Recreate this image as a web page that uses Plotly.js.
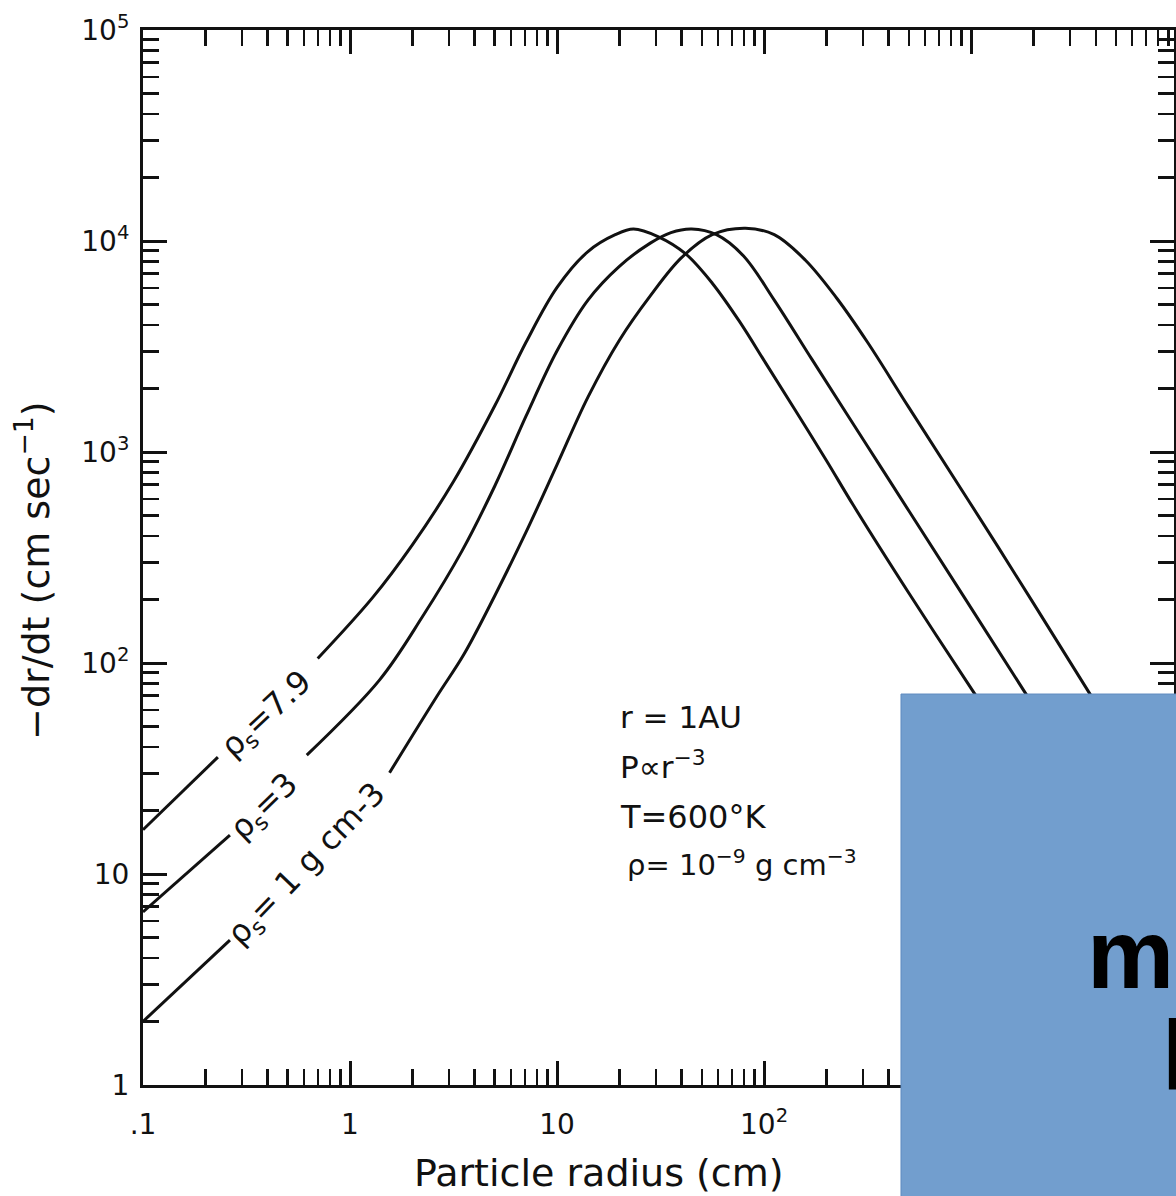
<!DOCTYPE html>
<html>
<head>
<meta charset="utf-8">
<script src="https://cdn.plot.ly/plotly-3.0.1.min.js"></script>
<style>
  html, body { margin: 0; padding: 0; background: #ffffff; }
  #chart { width: 1176px; height: 1196px; }
</style>
</head>
<body>
<div id="chart"></div>
<script>
// ---- Data (particle radius in cm, -dr/dt in cm/s) ----
// null marks the gap where each curve is interrupted by its label
const radiusRho79 = [0.1, 0.23, null, 0.698, 1.285, 2.0, 3.16, 5.01, 7.08, 10.0, 14.1, 19.1, 23.4, 30.9, 41.7, 56.2, 75.9, 102, 141, 200, 269, 501, 1047, 1148];
const rateRho79   = [16.2, 35.8, null, 105, 204, 363, 724, 1660, 3311, 6026, 8913, 10715, 11402, 10471, 8710, 6310, 4169, 2630, 1585, 912, 562, 214, 70.8, 61.7];

const radiusRho3 = [0.1, 0.263, null, 0.618, 1.39, 2.24, 3.47, 5.01, 7.08, 10.0, 14.1, 20.0, 28.2, 35.5, 44.7, 58.9, 79.4, 112, 170, 251, 355, 501, 1849, 2042];
const rateRho3   = [6.61, 15.3, null, 36.6, 83.2, 166, 339, 692, 1479, 3020, 5248, 7586, 9772, 10965, 11402, 10715, 8511, 5248, 2754, 1514, 891, 525, 70.8, 60.3];

const radiusRho1 = [0.1, 0.263, null, 1.552, 2.62, 3.55, 5.01, 7.08, 10.0, 14.1, 20.0, 28.2, 39.8, 56.2, 81.3, 112, 158, 224, 316, 501, 1349, 3767, 4169];
const rateRho1   = [2.0, 4.86, null, 30.2, 69.2, 110, 209, 417, 871, 1820, 3388, 5495, 8318, 10715, 11482, 10715, 8128, 5370, 3311, 1622, 355, 70.8, 60.3];

const curveNames = ["ρs = 7.9 g cm-3", "ρs = 3 g cm-3", "ρs = 1 g cm-3"];

const xTickVals = [0.1, 1, 10, 100, 1000];
const xTickText = [".1", "1", "10", "10<sup>2</sup>", "10<sup>3</sup>"];
const yTickVals = [1, 10, 100, 1000, 10000, 100000];
const yTickText = ["1", "10", "10<sup>2</sup>", "10<sup>3</sup>", "10<sup>4</sup>", "10<sup>5</sup>"];

// ---- minor tick positions (2..9 in each decade) ----
function minorTicks(lo, hi) {
  const out = [];
  for (let e = lo; e <= hi; e++) {
    for (let m = 2; m <= 9; m++) out.push(m * Math.pow(10, e));
  }
  return out;
}

const ink = "#111111";
const fontFam = "DejaVu Sans, Liberation Sans, sans-serif";

function lineStyle() { return { color: ink, width: 3, shape: "spline", smoothing: 1.0 }; }
const traces = [
  { x: radiusRho79, y: rateRho79, name: curveNames[0], mode: "lines", line: lineStyle(), connectgaps: false },
  { x: radiusRho3,  y: rateRho3,  name: curveNames[1], mode: "lines", line: lineStyle(), connectgaps: false },
  { x: radiusRho1,  y: rateRho1,  name: curveNames[2], mode: "lines", line: lineStyle(), connectgaps: false }
];

const axisCommon = {
  type: "log",
  showgrid: false,
  zeroline: false,
  showline: true,
  linecolor: ink,
  linewidth: 3,
  mirror: "allticks",
  ticks: "inside",
  ticklen: 24,
  tickwidth: 3,
  tickcolor: ink,
  tickmode: "array",
  tickfont: { family: fontFam, size: 28, color: ink }
};

const layout = {
  width: 1176,
  height: 1196,
  margin: { l: 143, r: 2, t: 30, b: 111 },
  paper_bgcolor: "#ffffff",
  plot_bgcolor: "#ffffff",
  showlegend: false,
  xaxis: Object.assign({}, axisCommon, {
    range: [-1, 3.98],
    tickvals: xTickVals,
    ticktext: xTickText,
    ticklabelstandoff: 12,
    minor: { tickmode: "array", tickvals: minorTicks(-1, 3), ticks: "inside", ticklen: 16, tickwidth: 2.5, tickcolor: ink, showgrid: false }
  }),
  yaxis: Object.assign({}, axisCommon, {
    range: [0, 5],
    tickvals: yTickVals,
    ticktext: yTickText,
    ticklabelstandoff: 5,
    minor: { tickmode: "array", tickvals: minorTicks(0, 4), ticks: "inside", ticklen: 16, tickwidth: 2.5, tickcolor: ink, showgrid: false }
  }),
  shapes: [
    {
      type: "rect", xref: "paper", yref: "paper", layer: "above",
      x0: 0.7352, x1: 1.01, y0: -0.12, y1: 0.3706,
      fillcolor: "#729ece", line: { color: "#5f8bc0", width: 1 }
    }
  ],
  annotations: [
    // axis titles
    { xref: "paper", yref: "paper", x: 0.442, y: -0.083, xanchor: "center", yanchor: "middle", showarrow: false,
      text: "Particle radius (cm)", font: { family: fontFam, size: 38, color: ink } },
    { xref: "paper", yref: "paper", x: -0.106, y: 0.487, xanchor: "center", yanchor: "middle", showarrow: false, textangle: -90,
      text: "−dr/dt (cm sec<sup>−1</sup>)", font: { family: fontFam, size: 38, color: ink } },
    // curve labels
    { xref: "paper", yref: "paper", x: 0.1203, y: 0.3507, xanchor: "center", yanchor: "middle", showarrow: false, textangle: -43,
      text: "ρ<sub>s</sub>=7.9", font: { family: fontFam, size: 32, color: ink } },
    { xref: "paper", yref: "paper", x: 0.1183, y: 0.2635, xanchor: "center", yanchor: "middle", showarrow: false, textangle: -44,
      text: "ρ<sub>s</sub>=3", font: { family: fontFam, size: 32, color: ink } },
    { xref: "paper", yref: "paper", x: 0.1591, y: 0.2085, xanchor: "center", yanchor: "middle", showarrow: false, textangle: -46,
      text: "ρ<sub>s</sub>= 1 g cm-3", font: { family: fontFam, size: 32, color: ink } },
    // conditions block
    { xref: "paper", yref: "paper", x: 0.4607, y: 0.3488, xanchor: "left", yanchor: "middle", showarrow: false,
      text: "r = 1AU", font: { family: fontFam, size: 31, color: ink } },
    { xref: "paper", yref: "paper", x: 0.4607, y: 0.3033, xanchor: "left", yanchor: "middle", showarrow: false,
      text: "P∝r<sup>−3</sup>", font: { family: fontFam, size: 31, color: ink } },
    { xref: "paper", yref: "paper", x: 0.4607, y: 0.2540, xanchor: "left", yanchor: "middle", showarrow: false,
      text: "T=600°K", font: { family: fontFam, size: 32, color: ink } },
    { xref: "paper", yref: "paper", x: 0.4675, y: 0.2104, xanchor: "left", yanchor: "middle", showarrow: false,
      text: "ρ= 10<sup>−9</sup> g cm<sup>−3</sup>", font: { family: fontFam, size: 29, color: ink } },
    // text on the overlaid blue box
    { xref: "paper", yref: "paper", x: 0.9137, y: 0.1242, xanchor: "left", yanchor: "middle", showarrow: false,
      text: "m", font: { family: "Liberation Sans, Arial, sans-serif", size: 98, color: "#000000", weight: 700 } },
    { xref: "paper", yref: "paper", x: 0.9864, y: 0.0284, xanchor: "left", yanchor: "middle", showarrow: false,
      text: "l", font: { family: "Liberation Sans, Arial, sans-serif", size: 98, color: "#000000", weight: 700 } }
  ]
};

Plotly.newPlot("chart", traces, layout, { displayModeBar: false, staticPlot: true });
</script>
</body>
</html>
